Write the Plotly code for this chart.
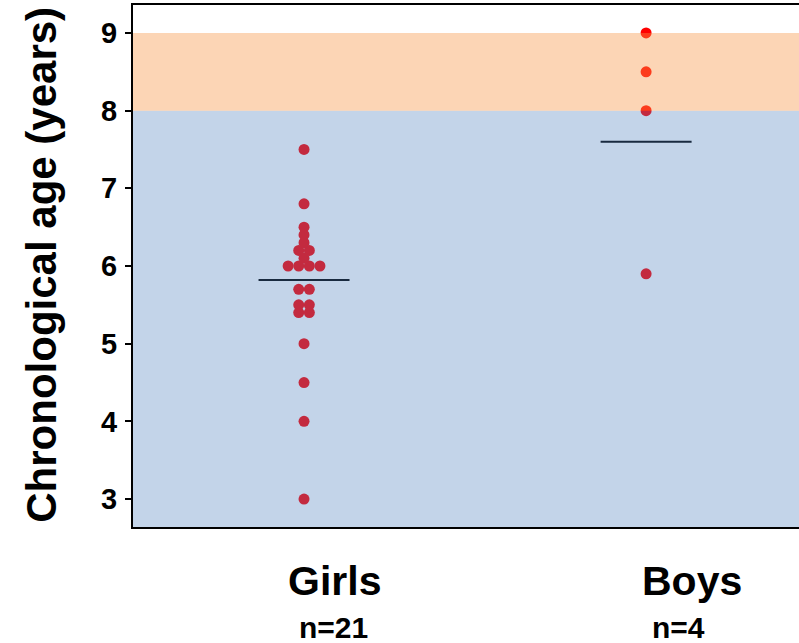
import plotly.graph_objects as go
from collections import Counter

# ---- data -------------------------------------------------------------
categories = ["Girls", "Boys"]
count_labels = ["n=21", "n=4"]
girls_ages = [7.5, 6.8, 6.5, 6.4, 6.3, 6.2, 6.2, 6.1, 6.0, 6.0, 6.0, 6.0,
              5.7, 5.7, 5.5, 5.5, 5.4, 5.4, 5.0, 4.5, 4.0, 3.0]
boys_ages = [9.0, 8.5, 8.0, 5.9]
group_means = [5.82, 7.6]
y_ticks = [3, 4, 5, 6, 7, 8, 9]
normal_band = [2.64, 8.0]     # shaded region up to 8 years
early_band = [8.0, 9.0]       # shaded region 8-9 years

# ---- layout constants -------------------------------------------------
FONT = "Liberation Sans, Arial, sans-serif"
DOT_STEP = 0.031     # horizontal spacing between tied values (x units)
MEAN_HALF = 0.133    # half width of the mean bar (x units)
Y_RANGE = [2.64, 9.36]
X_RANGE = [-0.5, 1.447]


def swarm_x(values, center):
    """Spread tied values side by side around the group position."""
    counts = Counter(values)
    seen = Counter()
    xs = []
    for v in values:
        k = counts[v]
        i = seen[v]
        seen[v] += 1
        xs.append(center + (i - (k - 1) / 2) * DOT_STEP)
    return xs


fig = go.Figure()

for pos, ages in enumerate([girls_ages, boys_ages]):
    fig.add_trace(go.Scatter(
        x=swarm_x(ages, pos), y=ages, mode="markers",
        marker=dict(color="#ff0000", size=11, line=dict(width=0)),
        showlegend=False, hoverinfo="y",
    ))

for pos, m in enumerate(group_means):
    fig.add_trace(go.Scatter(
        x=[pos - MEAN_HALF, pos + MEAN_HALF], y=[m, m], mode="lines",
        line=dict(color="#000000", width=2),
        showlegend=False, hoverinfo="skip",
    ))

# translucent reference bands drawn over the points
fig.add_shape(type="rect", xref="paper", x0=0, x1=1, yref="y",
              y0=normal_band[0], y1=normal_band[1],
              fillcolor="rgb(75,126,188)", opacity=0.333,
              line=dict(width=0), layer="above")
fig.add_shape(type="rect", xref="paper", x0=0, x1=1, yref="y",
              y0=early_band[0], y1=early_band[1],
              fillcolor="rgb(247,150,70)", opacity=0.4,
              line=dict(width=0), layer="above")

# group names and sample sizes under the axis
name_x = [0.088, 1.135]
count_x = [0.085, 1.094]
for i, cat in enumerate(categories):
    fig.add_annotation(x=name_x[i], xref="x", y=-0.104, yref="paper",
                       text="<b>%s</b>" % cat, showarrow=False,
                       xanchor="center", yanchor="middle",
                       font=dict(family=FONT, size=41, color="#000000"))
    fig.add_annotation(x=count_x[i], xref="x", y=-0.192, yref="paper",
                       text="<b>%s</b>" % count_labels[i], showarrow=False,
                       xanchor="center", yanchor="middle",
                       font=dict(family=FONT, size=30, color="#000000"))

fig.add_annotation(x=-0.137, xref="paper", y=0.502, yref="paper",
                   text="<b>Chronological age (years)</b>", textangle=-90,
                   showarrow=False, xanchor="center", yanchor="middle",
                   font=dict(family=FONT, size=42, color="#000000"))

fig.update_xaxes(range=X_RANGE, showgrid=False, zeroline=False,
                 showticklabels=False, ticks="", showline=True,
                 linecolor="#000000", linewidth=2, mirror=True)
fig.update_yaxes(range=Y_RANGE, showgrid=False, zeroline=False,
                 tickvals=y_ticks, ticktext=["<b>%d</b>" % t for t in y_ticks],
                 ticks="outside", ticklen=6, tickwidth=2, tickcolor="#000000",
                 ticklabelstandoff=2,
                 tickfont=dict(family=FONT, size=29, color="#000000"),
                 showline=True, linecolor="#000000", linewidth=2, mirror=False)

fig.update_layout(
    width=799, height=643,
    margin=dict(l=133, r=0, t=5, b=116),
    plot_bgcolor="#ffffff", paper_bgcolor="#ffffff",
    showlegend=False,
)

fig.write_html("out.html")
